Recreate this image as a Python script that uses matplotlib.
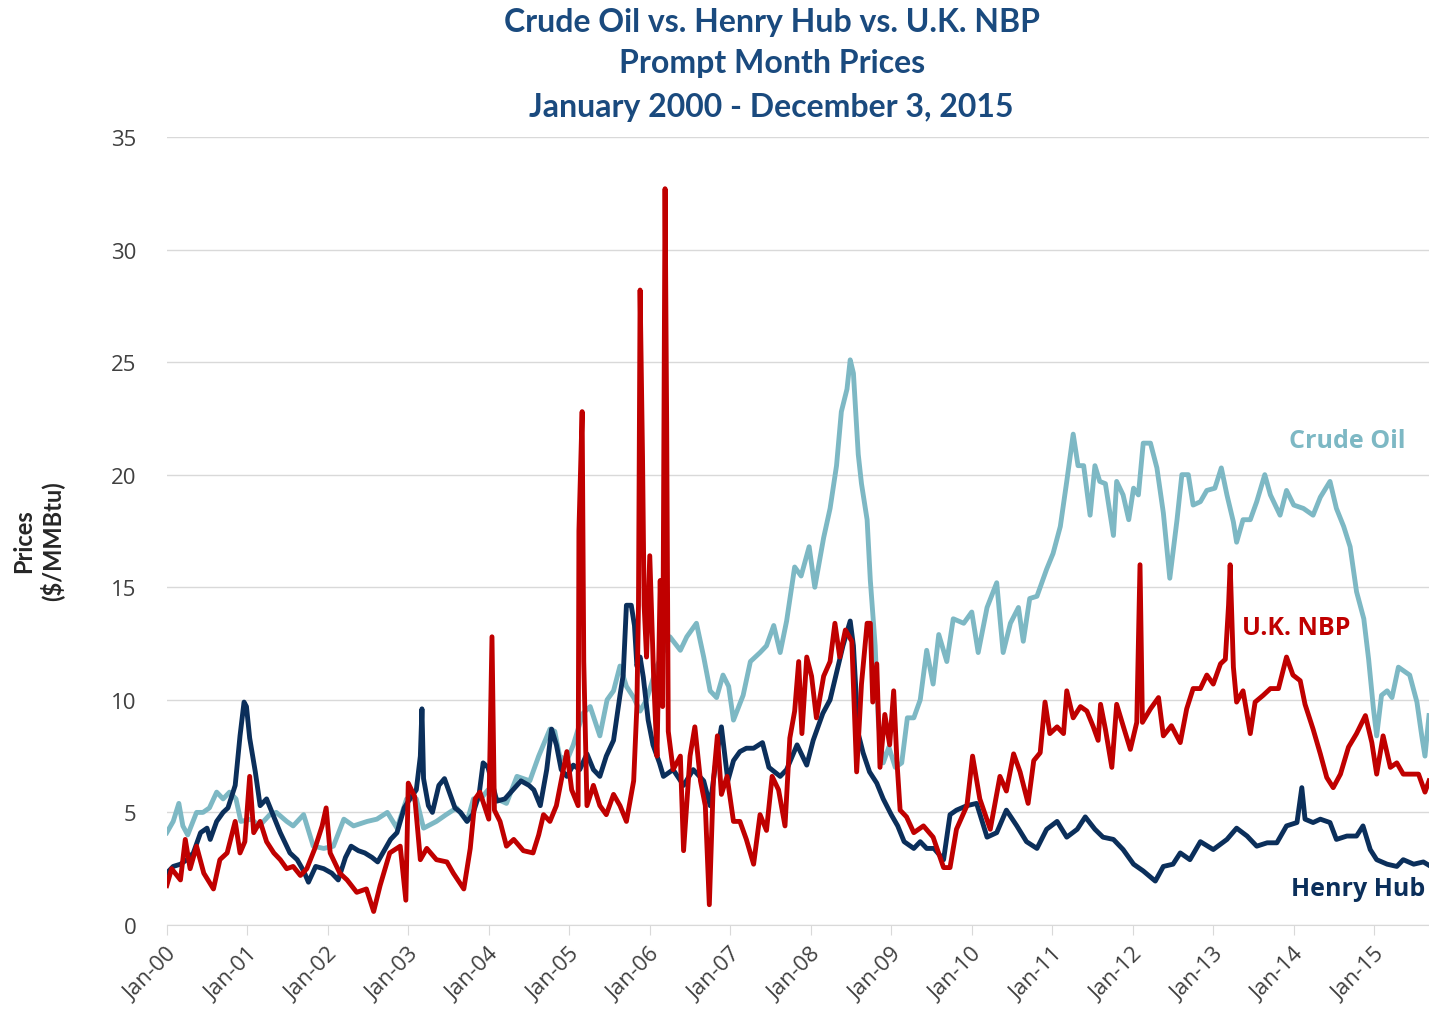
import matplotlib
matplotlib.use('Agg')
import matplotlib.pyplot as plt
import numpy as np

#%% data  (x = decimal year, y = $/MMBtu)

crude_x = [2000.00, 2000.08, 2000.15, 2000.20, 2000.26, 2000.37, 2000.45, 2000.53, 2000.62, 2000.70,
           2000.78, 2000.86, 2000.92, 2001.05, 2001.15, 2001.28, 2001.36, 2001.49, 2001.57, 2001.70,
           2001.82, 2001.95, 2002.07, 2002.20, 2002.32, 2002.49, 2002.61, 2002.74, 2002.86, 2002.98,
           2003.10, 2003.19, 2003.35, 2003.47, 2003.60, 2003.73, 2003.81, 2003.90, 2003.99, 2004.10,
           2004.22, 2004.35, 2004.51, 2004.62, 2004.76, 2004.82, 2004.88, 2004.97, 2005.05, 2005.17,
           2005.26, 2005.38, 2005.47, 2005.55, 2005.63, 2005.71, 2005.80, 2005.88, 2005.96, 2006.09,
           2006.25, 2006.38, 2006.46, 2006.58, 2006.67, 2006.75, 2006.83, 2006.91, 2006.98, 2007.04,
           2007.16, 2007.25, 2007.37, 2007.45, 2007.54, 2007.62, 2007.70, 2007.80, 2007.88, 2007.98,
           2008.05, 2008.16, 2008.24, 2008.32, 2008.38, 2008.45, 2008.49, 2008.53, 2008.59, 2008.63,
           2008.70, 2008.74, 2008.80, 2008.84, 2008.90, 2008.97, 2009.05, 2009.13, 2009.20, 2009.28,
           2009.36, 2009.44, 2009.52, 2009.59, 2009.69, 2009.77, 2009.90, 2010.00, 2010.08, 2010.19,
           2010.31, 2010.39, 2010.48, 2010.58, 2010.64, 2010.72, 2010.81, 2010.93, 2011.01, 2011.10,
           2011.18, 2011.26, 2011.32, 2011.39, 2011.47, 2011.53, 2011.59, 2011.66, 2011.76, 2011.80,
           2011.88, 2011.95, 2012.01, 2012.07, 2012.13, 2012.22, 2012.30, 2012.38, 2012.46, 2012.55,
           2012.61, 2012.69, 2012.75, 2012.84, 2012.92, 2013.02, 2013.10, 2013.17, 2013.25, 2013.29,
           2013.37, 2013.46, 2013.54, 2013.64, 2013.71, 2013.83, 2013.91, 2014.00, 2014.12, 2014.24,
           2014.33, 2014.45, 2014.53, 2014.62, 2014.70, 2014.78, 2014.87, 2014.93, 2014.99, 2015.03,
           2015.09, 2015.16, 2015.22, 2015.30, 2015.36, 2015.44, 2015.53, 2015.59, 2015.63, 2015.68]
crude_y = [4.1, 4.6, 5.4, 4.4, 4.0, 5.0, 5.0, 5.2, 5.9, 5.6,
           5.9, 5.6, 4.6, 4.7, 4.4, 4.9, 5.0, 4.6, 4.4, 4.9,
           3.5, 3.4, 3.5, 4.7, 4.4, 4.6, 4.7, 5.0, 4.3, 5.6,
           5.6, 4.3, 4.6, 4.9, 5.2, 4.6, 5.6, 5.6, 6.0, 5.6,
           5.4, 6.6, 6.4, 7.5, 8.7, 8.6, 7.5, 7.3, 8.0, 9.4,
           9.7, 8.4, 10.0, 10.4, 11.5, 10.6, 10.1, 9.5, 10.0, 11.5,
           12.8, 12.2, 12.8, 13.4, 11.9, 10.4, 10.1, 11.1, 10.6, 9.1,
           10.2, 11.7, 12.1, 12.4, 13.3, 12.1, 13.5, 15.9, 15.5, 16.8,
           15.0, 17.2, 18.5, 20.4, 22.8, 23.8, 25.1, 24.5, 20.9, 19.6,
           18.0, 15.3, 12.4, 9.0, 7.2, 7.9, 7.0, 7.2, 9.2, 9.2,
           10.0, 12.2, 10.7, 12.9, 11.7, 13.6, 13.4, 13.9, 12.1, 14.1,
           15.2, 12.1, 13.4, 14.1, 12.6, 14.5, 14.6, 15.8, 16.5, 17.7,
           19.7, 21.8, 20.4, 20.4, 18.2, 20.4, 19.7, 19.6, 17.3, 19.7,
           19.1, 18.0, 19.4, 19.1, 21.4, 21.4, 20.3, 18.3, 15.4, 18.0,
           20.0, 20.0, 18.65, 18.8, 19.3, 19.4, 20.3, 19.1, 17.9, 17.0,
           18.0, 18.0, 18.8, 20.0, 19.1, 18.2, 19.3, 18.65, 18.5, 18.2,
           19.0, 19.7, 18.5, 17.7, 16.8, 14.8, 13.6, 11.8, 9.6, 8.4,
           10.2, 10.4, 10.1, 11.45, 11.3, 11.1, 9.9, 8.4, 7.5, 9.3]

hh_x = [2000.00, 2000.08, 2000.17, 2000.25, 2000.33, 2000.42, 2000.50, 2000.54, 2000.62, 2000.70,
        2000.76, 2000.85, 2000.91, 2000.96, 2000.99, 2001.03, 2001.10, 2001.16, 2001.24, 2001.32,
        2001.41, 2001.53, 2001.62, 2001.70, 2001.76, 2001.85, 2001.95, 2002.05, 2002.13, 2002.22,
        2002.29, 2002.38, 2002.46, 2002.55, 2002.62, 2002.70, 2002.78, 2002.86, 2002.95, 2003.02,
        2003.10, 2003.15, 2003.17, 2003.19, 2003.25, 2003.30, 2003.38, 2003.45, 2003.52, 2003.58,
        2003.65, 2003.73, 2003.80, 2003.88, 2003.93, 2003.99, 2004.05, 2004.10, 2004.20, 2004.30,
        2004.40, 2004.50, 2004.56, 2004.64, 2004.72, 2004.78, 2004.84, 2004.90, 2004.97, 2005.05,
        2005.13, 2005.22, 2005.30, 2005.38, 2005.46, 2005.55, 2005.63, 2005.67, 2005.71, 2005.77,
        2005.81, 2005.84, 2005.88, 2005.92, 2005.98, 2006.04, 2006.12, 2006.17, 2006.29, 2006.42,
        2006.54, 2006.67, 2006.75, 2006.83, 2006.89, 2006.97, 2007.04, 2007.12, 2007.20, 2007.29,
        2007.40, 2007.48, 2007.62, 2007.70, 2007.83, 2007.95, 2008.03, 2008.15, 2008.24, 2008.32,
        2008.40, 2008.49, 2008.53, 2008.59, 2008.65, 2008.73, 2008.82, 2008.90, 2009.00, 2009.08,
        2009.16, 2009.28, 2009.36, 2009.44, 2009.53, 2009.65, 2009.73, 2009.81, 2009.94, 2010.06,
        2010.19, 2010.31, 2010.43, 2010.56, 2010.68, 2010.81, 2010.93, 2011.06, 2011.18, 2011.31,
        2011.41, 2011.53, 2011.63, 2011.76, 2011.88, 2012.01, 2012.13, 2012.28, 2012.38, 2012.50,
        2012.59, 2012.71, 2012.84, 2013.00, 2013.17, 2013.29, 2013.42, 2013.54, 2013.67, 2013.79,
        2013.91, 2014.04, 2014.10, 2014.14, 2014.24, 2014.33, 2014.45, 2014.53, 2014.66, 2014.78,
        2014.86, 2014.95, 2015.03, 2015.16, 2015.28, 2015.36, 2015.49, 2015.61, 2015.68]
hh_y = [2.3, 2.6, 2.7, 2.9, 3.2, 4.1, 4.3, 3.8, 4.6, 5.0,
        5.2, 6.2, 8.4, 9.9, 9.7, 8.3, 6.8, 5.3, 5.6, 4.9,
        4.1, 3.2, 2.9, 2.4, 1.9, 2.6, 2.5, 2.3, 2.0, 3.0,
        3.5, 3.3, 3.2, 3.0, 2.8, 3.3, 3.8, 4.1, 5.2, 5.6,
        6.0, 7.5, 9.6, 6.5, 5.3, 5.0, 6.2, 6.5, 5.8, 5.2,
        5.0, 4.6, 4.9, 5.8, 7.2, 7.0, 6.2, 5.5, 5.6, 6.0,
        6.4, 6.2, 6.0, 5.3, 6.9, 8.7, 8.0, 6.9, 6.6, 7.1,
        6.9, 7.6, 6.9, 6.6, 7.5, 8.2, 10.2, 11.1, 14.2, 14.2,
        13.3, 11.5, 11.9, 11.0, 9.1, 8.0, 7.2, 6.6, 6.9, 6.2,
        6.9, 6.4, 5.3, 7.5, 8.8, 6.4, 7.3, 7.7, 7.85, 7.85,
        8.1, 7.0, 6.6, 6.9, 8.0, 7.1, 8.2, 9.4, 10.0, 11.2,
        12.4, 13.5, 12.4, 8.5, 7.65, 6.8, 6.3, 5.6, 4.9, 4.4,
        3.7, 3.4, 3.7, 3.4, 3.4, 2.9, 4.9, 5.1, 5.3, 5.4,
        3.9, 4.1, 5.1, 4.4, 3.7, 3.4, 4.25, 4.6, 3.9, 4.25,
        4.8, 4.25, 3.9, 3.8, 3.35, 2.7, 2.4, 1.95, 2.6, 2.7,
        3.2, 2.9, 3.7, 3.35, 3.8, 4.3, 3.95, 3.5, 3.65, 3.65,
        4.4, 4.55, 6.1, 4.7, 4.55, 4.7, 4.55, 3.8, 3.95, 3.95,
        4.4, 3.35, 2.9, 2.7, 2.6, 2.9, 2.7, 2.8, 2.65]

nbp_x = [2000.00, 2000.06, 2000.17, 2000.23, 2000.29, 2000.37, 2000.46, 2000.58, 2000.66, 2000.75,
         2000.85, 2000.91, 2000.97, 2001.03, 2001.08, 2001.16, 2001.24, 2001.33, 2001.41, 2001.49,
         2001.57, 2001.66, 2001.74, 2001.84, 2001.93, 2001.98, 2002.03, 2002.15, 2002.24, 2002.36,
         2002.48, 2002.57, 2002.65, 2002.77, 2002.90, 2002.97, 2003.00, 2003.08, 2003.15, 2003.23,
         2003.35, 2003.48, 2003.56, 2003.69, 2003.77, 2003.83, 2003.89, 2004.00, 2004.04, 2004.07,
         2004.14, 2004.22, 2004.31, 2004.43, 2004.55, 2004.62, 2004.68, 2004.76, 2004.84, 2004.91,
         2004.97, 2005.03, 2005.11, 2005.12, 2005.16, 2005.18, 2005.22, 2005.30, 2005.38, 2005.46,
         2005.55, 2005.63, 2005.71, 2005.80, 2005.84, 2005.86, 2005.88, 2005.91, 2005.93, 2005.96,
         2006.00, 2006.05, 2006.09, 2006.13, 2006.16, 2006.19, 2006.21, 2006.23, 2006.29, 2006.38,
         2006.42, 2006.50, 2006.56, 2006.63, 2006.69, 2006.74, 2006.79, 2006.84, 2006.89, 2006.96,
         2007.04, 2007.12, 2007.20, 2007.29, 2007.37, 2007.45, 2007.52, 2007.60, 2007.68, 2007.74,
         2007.80, 2007.85, 2007.89, 2007.95, 2008.01, 2008.07, 2008.16, 2008.24, 2008.30, 2008.36,
         2008.43, 2008.51, 2008.57, 2008.63, 2008.70, 2008.74, 2008.77, 2008.82, 2008.86, 2008.92,
         2008.98, 2009.03, 2009.07, 2009.11, 2009.19, 2009.28, 2009.40, 2009.52, 2009.65, 2009.73,
         2009.81, 2009.94, 2010.01, 2010.10, 2010.23, 2010.35, 2010.43, 2010.52, 2010.60, 2010.70,
         2010.77, 2010.85, 2010.91, 2010.97, 2011.06, 2011.14, 2011.18, 2011.26, 2011.35, 2011.43,
         2011.51, 2011.57, 2011.60, 2011.66, 2011.74, 2011.80, 2011.88, 2011.97, 2012.05, 2012.09,
         2012.12, 2012.22, 2012.32, 2012.38, 2012.48, 2012.59, 2012.67, 2012.75, 2012.84, 2012.92,
         2013.00, 2013.09, 2013.15, 2013.19, 2013.21, 2013.25, 2013.29, 2013.37, 2013.46, 2013.52,
         2013.62, 2013.71, 2013.81, 2013.91, 2013.99, 2014.08, 2014.14, 2014.24, 2014.33, 2014.41,
         2014.49, 2014.58, 2014.68, 2014.78, 2014.89, 2014.97, 2015.03, 2015.11, 2015.20, 2015.28,
         2015.36, 2015.45, 2015.55, 2015.63, 2015.68]
nbp_y = [1.75, 2.5, 2.0, 3.8, 2.5, 3.5, 2.3, 1.6, 2.9, 3.2,
         4.6, 3.2, 3.7, 6.6, 4.1, 4.6, 3.7, 3.2, 2.9, 2.5,
         2.6, 2.2, 2.5, 3.4, 4.4, 5.2, 3.2, 2.3, 2.0, 1.45,
         1.6, 0.6, 1.75, 3.2, 3.5, 1.1, 6.3, 5.7, 2.9, 3.4,
         2.9, 2.8, 2.3, 1.6, 3.4, 5.6, 5.9, 4.7, 12.8, 5.1,
         4.6, 3.5, 3.8, 3.3, 3.2, 4.0, 4.9, 4.6, 5.3, 6.6,
         7.7, 6.0, 5.3, 17.5, 22.8, 11.7, 5.3, 6.2, 5.3, 4.9,
         5.8, 5.3, 4.6, 6.4, 9.7, 14.2, 28.2, 20.8, 14.2, 11.9,
         16.4, 10.8, 7.5, 15.3, 9.7, 32.7, 22.3, 8.6, 6.9, 7.5,
         3.3, 7.5, 8.8, 6.4, 5.3, 0.9, 6.4, 8.4, 5.8, 6.6,
         4.6, 4.6, 3.8, 2.7, 4.9, 4.2, 6.6, 6.0, 4.4, 8.3,
         9.5, 11.7, 8.5, 11.9, 11.05, 9.2, 11.05, 11.7, 13.4, 11.9,
         13.1, 12.6, 6.8, 10.7, 13.4, 13.4, 9.9, 11.6, 7.0, 9.35,
         8.0, 10.4, 7.3, 5.1, 4.8, 4.1, 4.4, 3.9, 2.55, 2.55,
         4.25, 5.3, 7.5, 5.6, 4.25, 6.6, 5.95, 7.6, 6.8, 5.4,
         7.3, 7.65, 9.9, 8.5, 8.8, 8.5, 10.4, 9.2, 9.7, 9.5,
         8.8, 8.2, 9.8, 8.7, 7.0, 9.8, 8.85, 7.8, 9.0, 16.0,
         9.0, 9.6, 10.1, 8.4, 8.85, 8.1, 9.6, 10.5, 10.5, 11.1,
         10.7, 11.6, 11.8, 14.2, 16.0, 11.45, 9.9, 10.4, 8.5, 9.9,
         10.2, 10.5, 10.5, 11.9, 11.1, 10.85, 9.8, 8.7, 7.6, 6.55,
         6.1, 6.7, 7.9, 8.5, 9.3, 8.1, 6.7, 8.4, 7.0, 7.2,
         6.7, 6.7, 6.7, 5.9, 6.4]

tick_years = list(range(2000, 2016))
tick_labels = ['Jan-%02d' % (y % 100) for y in tick_years]

#%% colours
c_crude = '#7DB8C4'
c_hh = '#0B2F5B'
c_nbp = '#C00000'
c_title = '#1A4A7E'

#%% plot
fig = plt.figure(figsize=(14.29, 10.12), dpi=100)
ax = fig.add_axes([0.1167, 0.085, 0.8833, 0.7787])

ax.plot(crude_x, crude_y, color=c_crude, lw=3.5, solid_joinstyle='round')
ax.plot(hh_x, hh_y, color=c_hh, lw=3.5, solid_joinstyle='round')
ax.plot(nbp_x, nbp_y, color=c_nbp, lw=3.5, solid_joinstyle='round')

ax.set_xlim(2000, 2015.68)
ax.set_ylim(0, 35)
ax.set_yticks(np.arange(0, 36, 5))
ax.set_xticks(tick_years)
ax.set_xticklabels(tick_labels, rotation=45, ha='right', rotation_mode='anchor')
ax.grid(axis='y', color='#D9D9D9', lw=1)
ax.set_axisbelow(True)
for s in ['top', 'right', 'left']:
    ax.spines[s].set_visible(False)
ax.spines['bottom'].set_color('#D9D9D9')
ax.tick_params(axis='y', length=0, pad=22, labelsize=16, labelcolor='#404040')
ax.tick_params(axis='x', length=7, color='#D9D9D9', pad=6, labelsize=16, labelcolor='#404040')
for t in ax.get_xticklabels() + ax.get_yticklabels():
    t.set_family('Open Sans')

# series labels
ax.text(2014.67, 21.5, 'Crude Oil', color=c_crude, fontsize=18, fontweight='bold',
        family='Open Sans', ha='center', va='center')
ax.text(2014.03, 13.2, 'U.K. NBP', color=c_nbp, fontsize=18, fontweight='bold',
        family='Open Sans', ha='center', va='center')
ax.text(2014.80, 1.6, 'Henry Hub', color=c_hh, fontsize=18, fontweight='bold',
        family='Open Sans', ha='center', va='center')

# titles
fig.text(0.540, 0.978, 'Crude Oil vs. Henry Hub vs. U.K. NBP', color=c_title,
         fontsize=23, fontweight='bold', family='Lato', ha='center', va='center')
fig.text(0.540, 0.937, 'Prompt Month Prices', color=c_title,
         fontsize=23, fontweight='bold', family='Lato', ha='center', va='center')
fig.text(0.540, 0.894, 'January 2000 - December 3, 2015', color=c_title,
         fontsize=23, fontweight='bold', family='Lato', ha='center', va='center')

fig.text(0.027, 0.465, 'Prices\n($/MMBtu)', rotation=90, fontsize=17, fontweight='bold',
         family='Lato', color='#262626', ha='center', va='center', multialignment='center')

fig.savefig('out.png', dpi=100)
